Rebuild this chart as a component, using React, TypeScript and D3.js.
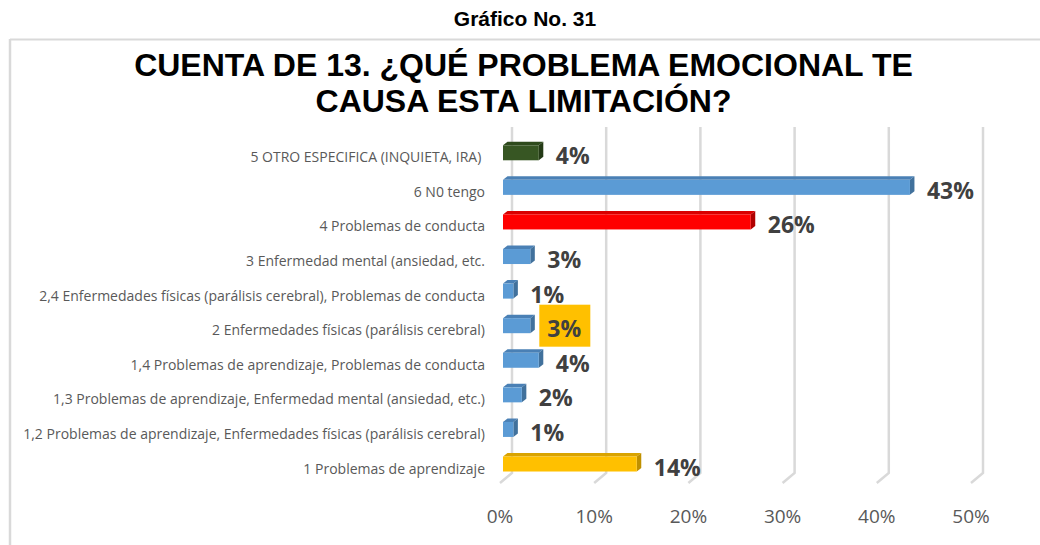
import React from "react";
import * as d3 from "d3";

const categories = [
  "5 OTRO ESPECIFICA (INQUIETA, IRA)\u00A0",
  "6 N0 tengo",
  "4 Problemas de conducta",
  "3 Enfermedad mental (ansiedad, etc.",
  "2,4 Enfermedades físicas (parálisis cerebral), Problemas de conducta",
  "2 Enfermedades físicas (parálisis cerebral)",
  "1,4 Problemas de aprendizaje, Problemas de conducta",
  "1,3 Problemas de aprendizaje, Enfermedad mental (ansiedad, etc.)",
  "1,2 Problemas de aprendizaje, Enfermedades físicas (parálisis cerebral)",
  "1 Problemas de aprendizaje",
];
const values = [3.8, 43.2, 26.3, 2.9, 1.1, 2.9, 3.8, 2.0, 1.1, 14.2];
const barColorKeys = ["green", "blue", "red", "blue", "blue", "blue", "blue", "blue", "blue", "gold"];
const highlightedLabel = "2 Enfermedades físicas (parálisis cerebral)";
const tickValues = [0, 10, 20, 30, 40, 50];

const palette: Record<string, { front: string; top: string; side: string }> = {
  blue: { front: "#5B9BD5", top: "#4A80B5", side: "#41719C" },
  red: { front: "#FF0000", top: "#D90000", side: "#B00000" },
  gold: { front: "#FFC000", top: "#D9A300", side: "#BF9000" },
  green: { front: "#375623", top: "#2E4A1C", side: "#243A16" },
};

export default function App() {
  const W = 1040;
  const H = 545;
  const xBack = d3.scaleLinear().domain([0, 50]).range([512, 983]);
  const barDx = -9;
  const floorDx = -12;
  const floorDy = 10;
  const depthX = 4.5;
  const depthY = 3.5;
  const y = d3.scaleBand<string>().domain(categories).range([135.5, 481.3]).padding(0);
  const frontH = 15;
  const gridTop = 127;
  const gridBottom = 473;
  const fmt = (v: number) => d3.format(".0%")(v / 100);

  return (
    <svg
      width={W}
      height={H}
      style={{ position: "absolute", left: 0, top: 0, background: "#fff" }}
    >
      <rect x={0} y={0} width={W} height={H} fill="#fff" />
      <line x1={10} y1={39.5} x2={W} y2={39.5} stroke="#D9D9D9" strokeWidth={2} />
      <line x1={10} y1={39} x2={10} y2={H} stroke="#D9D9D9" strokeWidth={2.5} />

      <text
        x={525}
        y={26}
        textAnchor="middle"
        fontFamily="'Liberation Sans', Arial, sans-serif"
        fontWeight="bold"
        fontSize={21}
        fill="#000"
      >
        Gráfico No. 31
      </text>
      <text
        x={523.5}
        y={76}
        textAnchor="middle"
        fontFamily="'Liberation Sans', Arial, sans-serif"
        fontWeight="bold"
        fontSize={32}
        fill="#000"
      >
        CUENTA DE 13. ¿QUÉ PROBLEMA EMOCIONAL TE
      </text>
      <text
        x={523.5}
        y={112}
        textAnchor="middle"
        fontFamily="'Liberation Sans', Arial, sans-serif"
        fontWeight="bold"
        fontSize={32}
        fill="#000"
      >
        CAUSA ESTA LIMITACIÓN?
      </text>

      {tickValues.map((t) => {
        const gx = xBack(t);
        return (
          <path
            key={"g" + t}
            d={`M${gx},${gridTop} L${gx},${gridBottom} L${gx + floorDx},${gridBottom + floorDy}`}
            fill="none"
            stroke="#D9D9D9"
            strokeWidth={2.5}
          />
        );
      })}

      {tickValues.map((t) => (
        <text
          key={"t" + t}
          x={xBack(t) + floorDx}
          y={516}
          textAnchor="middle"
          dominantBaseline="central"
          fontFamily="'Open Sans', sans-serif"
          fontSize={19}
          fill="#595959"
        >
          {fmt(t)}
        </text>
      ))}

      {categories.map((c, i) => {
        const cy = (y(c) as number) + y.bandwidth() / 2;
        const x0 = xBack(0) + barDx;
        const x1 = xBack(values[i]) + barDx;
        const top = cy - frontH / 2;
        const bot = cy + frontH / 2;
        const col = palette[barColorKeys[i]];
        const labelX = x1 + 17;
        const isHi = c === highlightedLabel;
        return (
          <g key={"b" + i}>
            <path
              d={`M${x0},${top} L${x0 + depthX},${top - depthY} L${x1 + depthX},${top - depthY} L${x1},${top} Z`}
              fill={col.top}
            />
            <path
              d={`M${x1},${top} L${x1 + depthX},${top - depthY} L${x1 + depthX},${bot - depthY} L${x1},${bot} Z`}
              fill={col.side}
            />
            <rect x={x0} y={top} width={x1 - x0} height={frontH} fill={col.front} />
            {isHi && (
              <rect x={labelX - 8} y={cy - 21} width={51} height={42} fill="#FFC000" />
            )}
            <text
              x={labelX}
              y={cy + 2.5}
              dominantBaseline="central"
              fontFamily="'Open Sans', sans-serif"
              fontWeight="bold"
              fontSize={23}
              fill="#404040"
            >
              {fmt(values[i])}
            </text>
            <text
              x={485}
              y={cy + 4}
              textAnchor="end"
              dominantBaseline="central"
              fontFamily="'Open Sans', sans-serif"
              fontSize={14}
              fill="#595959"
            >
              {c}
            </text>
          </g>
        );
      })}
    </svg>
  );
}
